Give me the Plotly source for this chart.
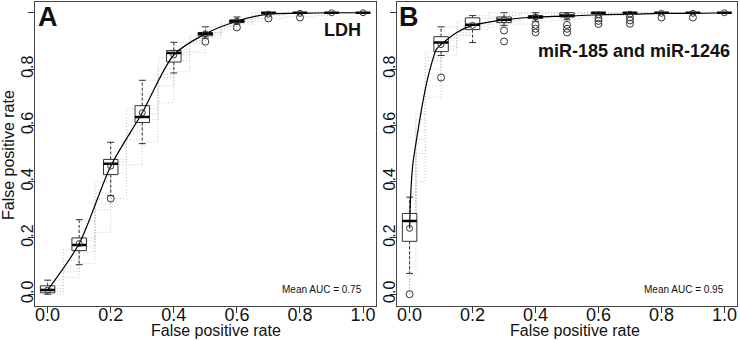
import plotly.graph_objects as go

# FPR cut-points at which the TPR spread is summarised
FPR_BOX = [0.0, 0.1, 0.2, 0.3, 0.4, 0.5, 0.6, 0.7, 0.8, 0.9, 1.0]

# ---------------- Panel A: LDH ----------------
A_run_fpr = [0.0, 0.05, 0.1, 0.15, 0.2, 0.25, 0.3, 0.35, 0.4, 0.45, 0.5,
             0.55, 0.6, 0.65, 0.7, 0.75, 0.8, 0.85, 0.9, 0.95, 1.0]
A_runs = [
    [0.00, 0.08, 0.15, 0.30, 0.43, 0.55, 0.62, 0.74, 0.83, 0.89, 0.92, 0.95, 0.97, 0.98, 1.0, 1.0, 1.0, 1.0, 1.0, 1.0, 1.0],
    [0.03, 0.12, 0.20, 0.36, 0.48, 0.60, 0.67, 0.80, 0.87, 0.91, 0.93, 0.96, 0.975, 0.99, 1.0, 1.0, 1.0, 1.0, 1.0, 1.0, 1.0],
    [0.01, 0.06, 0.11, 0.22, 0.34, 0.46, 0.54, 0.68, 0.79, 0.86, 0.91, 0.94, 0.96, 0.97, 0.98, 0.985, 0.985, 0.99, 1.0, 1.0, 1.0],
    [0.05, 0.16, 0.26, 0.40, 0.54, 0.66, 0.76, 0.84, 0.895, 0.92, 0.95, 0.97, 0.985, 1.0, 1.0, 1.0, 1.0, 1.0, 1.0, 1.0, 1.0],
    [0.02, 0.10, 0.17, 0.32, 0.46, 0.57, 0.64, 0.77, 0.85, 0.90, 0.925, 0.95, 0.97, 0.98, 1.0, 1.0, 1.0, 1.0, 1.0, 1.0, 1.0],
    [0.01, 0.09, 0.19, 0.34, 0.47, 0.58, 0.66, 0.78, 0.86, 0.90, 0.93, 0.955, 0.965, 0.98, 0.99, 1.0, 1.0, 1.0, 1.0, 1.0, 1.0],
]
A_q1 = [0.005, 0.155, 0.425, 0.61, 0.825, 0.918, 0.965, 1.0, 1.0, 1.0, 1.0]
A_med = [0.015, 0.175, 0.464, 0.63, 0.857, 0.925, 0.97, 1.0, 1.0, 1.0, 1.0]
A_q3 = [0.03, 0.20, 0.479, 0.67, 0.866, 0.93, 0.975, 1.0, 1.0, 1.0, 1.0]
A_lo = [0.0, 0.105, 0.35, 0.535, 0.786, 0.91, 0.96, 1.0, 1.0, 1.0, 1.0]
A_hi = [0.05, 0.265, 0.54, 0.76, 0.895, 0.95, 0.985, 1.0, 1.0, 1.0, 1.0]
A_mean = [0.015, 0.18, 0.455, 0.645, 0.85, 0.925, 0.97, 0.995, 0.998, 1.0, 1.0]
A_out_x = [0.2, 0.5, 0.6, 0.7, 0.8]
A_out_y = [0.34, 0.897, 0.948, 0.98, 0.983]
A_avg_x = FPR_BOX
A_avg_y = A_mean
A_auc = 0.75

# ---------------- Panel B: miR-185 and miR-1246 ----------------
B_run_fpr = [0.0, 0.02, 0.05, 0.1, 0.15, 0.2, 0.25, 0.3, 0.35, 0.4, 0.45,
             0.5, 0.55, 0.6, 0.65, 0.7, 0.75, 0.8, 0.85, 0.9, 0.95, 1.0]
B_runs = [
    [0.19, 0.55, 0.80, 0.88, 0.93, 0.95, 0.96, 0.97, 0.98, 0.98, 0.985, 0.99, 0.99, 1.0, 1.0, 1.0, 1.0, 1.0, 1.0, 1.0, 1.0, 1.0],
    [0.35, 0.62, 0.86, 0.95, 0.97, 0.99, 1.0, 1.0, 1.0, 1.0, 1.0, 1.0, 1.0, 1.0, 1.0, 1.0, 1.0, 1.0, 1.0, 1.0, 1.0, 1.0],
    [0.26, 0.50, 0.74, 0.87, 0.92, 0.96, 0.97, 0.975, 0.98, 0.985, 0.99, 0.99, 1.0, 1.0, 1.0, 1.0, 1.0, 1.0, 1.0, 1.0, 1.0, 1.0],
    [0.28, 0.64, 0.83, 0.91, 0.95, 0.98, 0.985, 0.99, 1.0, 1.0, 1.0, 1.0, 1.0, 1.0, 1.0, 1.0, 1.0, 1.0, 1.0, 1.0, 1.0, 1.0],
    [0.07, 0.40, 0.70, 0.85, 0.92, 0.94, 0.95, 0.96, 0.96, 0.97, 0.975, 0.98, 0.985, 0.99, 0.99, 1.0, 1.0, 1.0, 1.0, 1.0, 1.0, 1.0],
    [0.23, 0.58, 0.84, 0.90, 0.94, 0.96, 0.98, 0.99, 1.0, 1.0, 1.0, 1.0, 1.0, 1.0, 1.0, 1.0, 1.0, 1.0, 1.0, 1.0, 1.0, 1.0],
]
B_q1 = [0.188, 0.862, 0.94, 0.965, 0.98, 0.985, 1.0, 1.0, 1.0, 1.0, 1.0]
B_med = [0.26, 0.894, 0.957, 0.975, 0.985, 0.99, 1.0, 1.0, 1.0, 1.0, 1.0]
B_q3 = [0.287, 0.915, 0.982, 0.985, 0.99, 1.0, 1.0, 1.0, 1.0, 1.0, 1.0]
B_lo = [0.074, 0.848, 0.894, 0.955, 0.97, 0.975, 1.0, 1.0, 1.0, 1.0, 1.0]
B_hi = [0.345, 0.95, 0.99, 1.0, 1.0, 1.0, 1.0, 1.0, 1.0, 1.0, 1.0]
B_mean = [0.234, 0.887, 0.955, 0.975, 0.985, 0.988, 0.993, 0.995, 0.998, 0.998, 1.0]
B_out_x = [0.0, 0.1, 0.3, 0.3, 0.4, 0.4, 0.4, 0.5, 0.5, 0.5,
           0.6, 0.6, 0.6, 0.7, 0.7, 0.7, 0.8, 0.9]
B_out_y = [0.0, 0.77, 0.937, 0.898, 0.957, 0.943, 0.93, 0.957, 0.943, 0.93,
           0.98, 0.971, 0.96, 0.984, 0.973, 0.961, 0.983, 0.983]
B_avg_x = [0.0, 0.003, 0.01, 0.025, 0.04, 0.054, 0.07, 0.085, 0.1, 0.15,
           0.2, 0.3, 0.4, 0.5, 0.6, 0.7, 0.8, 0.9, 1.0]
B_avg_y = [0.234, 0.34, 0.46, 0.57, 0.67, 0.75, 0.82, 0.87, 0.887, 0.93,
           0.955, 0.975, 0.985, 0.988, 0.993, 0.995, 0.998, 0.998, 1.0]
B_auc = 0.95

TICKS = [0.0, 0.2, 0.4, 0.6, 0.8, 1.0]
TICKTEXT = ["0.0", "0.2", "0.4", "0.6", "0.8", "1.0"]

FONT = "Liberation Sans, Arial, sans-serif"
BOX_HW = 0.023   # half width of each box
CAP_HW = 0.011   # half width of whisker caps


def add_panel(fig, xa, ya, run_fpr, runs, q1, med, q3, lo, hi, mean,
              out_x, out_y, avg_x, avg_y):
    # individual cross-validation ROC curves, each starting at the origin
    for run in runs:
        fig.add_trace(go.Scatter(x=[0.0] + run_fpr, y=[0.0] + run, mode="lines",
                                 line_shape="hv",
                                 line=dict(color="#c6c6c6", width=1, dash="1px,2px"),
                                 xaxis=xa, yaxis=ya, hoverinfo="skip"))
    bx, by, mx, my, wx, wy, cx, cy = [], [], [], [], [], [], [], []
    for c, a, m, b, l, h in zip(FPR_BOX, q1, med, q3, lo, hi):
        bx += [c - BOX_HW, c + BOX_HW, c + BOX_HW, c - BOX_HW, c - BOX_HW, None]
        by += [a, a, b, b, a, None]
        mx += [c - BOX_HW, c + BOX_HW, None]
        my += [m, m, None]
        wx += [c, c, None, c, c, None]
        wy += [b, h, None, a, l, None]
        cx += [c - CAP_HW, c + CAP_HW, None, c - CAP_HW, c + CAP_HW, None]
        cy += [h, h, None, l, l, None]
    fig.add_trace(go.Scatter(x=wx, y=wy, mode="lines", xaxis=xa, yaxis=ya,
                             line=dict(color="#333", width=1, dash="3px,2px"), hoverinfo="skip"))
    fig.add_trace(go.Scatter(x=cx, y=cy, mode="lines", xaxis=xa, yaxis=ya,
                             line=dict(color="#333", width=1), hoverinfo="skip"))
    fig.add_trace(go.Scatter(x=bx, y=by, mode="lines", xaxis=xa, yaxis=ya,
                             fill="toself", fillcolor="rgba(255,255,255,0.85)",
                             line=dict(color="#333", width=1), hoverinfo="skip"))
    # vertically averaged ROC curve
    fig.add_trace(go.Scatter(x=avg_x, y=avg_y, mode="lines", xaxis=xa, yaxis=ya,
                             line=dict(color="black", width=1.2, shape="spline", smoothing=0.8),
                             hoverinfo="skip"))
    fig.add_trace(go.Scatter(x=mx, y=my, mode="lines", xaxis=xa, yaxis=ya,
                             line=dict(color="black", width=2.5), hoverinfo="skip"))
    fig.add_trace(go.Scatter(x=out_x, y=out_y, mode="markers", xaxis=xa, yaxis=ya,
                             marker=dict(symbol="circle-open", size=7, color="#333",
                                         line=dict(width=1)), hoverinfo="skip"))
    fig.add_trace(go.Scatter(x=FPR_BOX, y=mean, mode="markers", xaxis=xa, yaxis=ya,
                             marker=dict(symbol="circle-open", size=6, color="#333",
                                         line=dict(width=1)), hoverinfo="skip"))


fig = go.Figure()
add_panel(fig, "x", "y", A_run_fpr, A_runs, A_q1, A_med, A_q3, A_lo, A_hi, A_mean,
          A_out_x, A_out_y, A_avg_x, A_avg_y)
add_panel(fig, "x2", "y2", B_run_fpr, B_runs, B_q1, B_med, B_q3, B_lo, B_hi, B_mean,
          B_out_x, B_out_y, B_avg_x, B_avg_y)
# label-only overlay subplots, so the tick labels can sit tight against the frame
for xa, ya in (("x3", "y3"), ("x4", "y4")):
    fig.add_trace(go.Scatter(x=[0.5], y=[0.5], mode="markers", xaxis=xa, yaxis=ya,
                             marker=dict(opacity=0), hoverinfo="skip"))

W, H = 740, 341
ydom = [1 - 305.5 / H, 1 - 1.5 / H]
xdomA = [35 / W, 375.7 / W]
xdomB = [397 / W, 737 / W]

common = dict(range=[-0.04, 1.04], tickvals=TICKS, ticktext=TICKTEXT,
              showgrid=False, zeroline=False)


def frame_axis(domain, anchor):
    return dict(domain=domain, anchor=anchor, ticks="outside", ticklen=6,
                tickcolor="#333", showline=True, linecolor="#444", linewidth=1,
                mirror=True, showticklabels=False, **common)


def label_x(domain, anchor, over):
    return dict(domain=domain, anchor=anchor, overlaying=over, ticks="",
                showline=False, showticklabels=True, ticklabelstandoff=-4,
                tickfont=dict(family=FONT, size=18, color="#111"), **common)


def label_y(domain, anchor, over):
    return dict(domain=domain, anchor=anchor, overlaying=over, ticks="",
                showline=False, showticklabels=True, tickangle=-90,
                ticklabelstandoff=-2,
                tickfont=dict(family=FONT, size=16, color="#111"), **common)


fig.update_layout(
    width=W, height=H, margin=dict(l=0, r=0, t=0, b=0),
    paper_bgcolor="white", plot_bgcolor="white", showlegend=False,
    xaxis=frame_axis(xdomA, "y"), yaxis=frame_axis(ydom, "x"),
    xaxis2=frame_axis(xdomB, "y2"), yaxis2=frame_axis(ydom, "x2"),
    xaxis3=label_x(xdomA, "y3", "x"), yaxis3=label_y(ydom, "x3", "y"),
    xaxis4=label_x(xdomB, "y4", "x2"), yaxis4=label_y(ydom, "x4", "y2"),
)


def px_note(text, x, y, size, bold=False, xanchor="center", yanchor="middle", angle=0):
    fig.add_annotation(text=f"<b>{text}</b>" if bold else text,
                       x=x / W, y=1 - y / H, xref="paper", yref="paper",
                       xanchor=xanchor, yanchor=yanchor, showarrow=False, textangle=angle,
                       font=dict(family=FONT, size=size, color="#111"))


# axis titles
px_note("False positive rate", 216, 330, 16)
px_note("False positive rate", 575, 330, 16)
px_note("False positive rate", 8, 155, 16, angle=-90)
# panel letters and labels
px_note("A", 36, 0, 27, bold=True, xanchor="left", yanchor="top")
px_note("B", 397, 0, 27, bold=True, xanchor="left", yanchor="top")
px_note("LDH", 363, 30, 18, bold=True, xanchor="right")
px_note("miR-185 and miR-1246", 732, 51, 18, bold=True, xanchor="right")
px_note(f"Mean AUC = {A_auc:.2f}", 364, 289, 10, xanchor="right")
px_note(f"Mean AUC = {B_auc:.2f}", 726, 289, 10, xanchor="right")

fig.write_html("out.html")
